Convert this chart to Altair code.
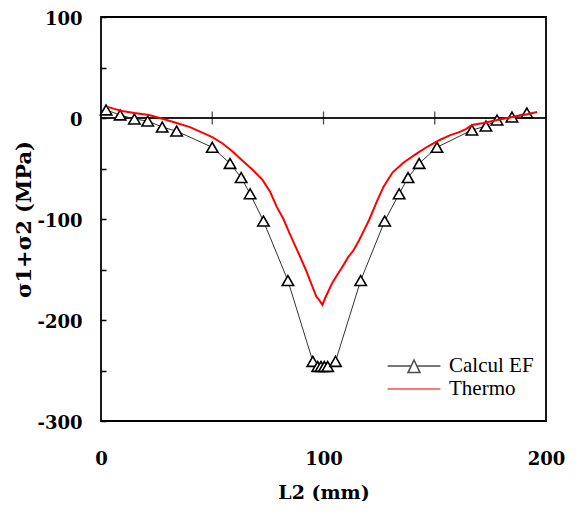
import altair as alt
import pandas as pd

# Calcul EF (finite element) points
ef_x = [2.3, 8.6, 15, 21, 27.5, 34, 50, 58, 63, 67, 73, 84, 95.2, 97.4, 98.9, 100.4, 101.9, 105.4,
        116.7, 127.5, 134, 138, 143, 151, 166.7, 173, 178, 184.7, 191.4]
ef_y = [8, 3, -1, -3, -9, -13, -29, -45, -59, -75, -102, -161, -241, -246, -246, -246, -246, -241,
        -161, -102, -75, -59, -45, -29, -12, -8, -2, 1, 5]

# Thermo measurement curve
th_x = [3, 6, 9.5, 15, 21.6, 28, 34, 40, 45, 50, 54.5, 59, 63.5, 68, 72.5, 76, 79, 82, 84.7, 88,
        90, 92, 94.5, 96.8, 98, 99.5, 101, 102.5, 104, 106, 108.6, 111, 113.5, 116, 118.5, 120.7,
        123.7, 127, 131, 136, 142, 147, 152, 157, 161, 164, 166.7, 172, 178, 185, 190, 196]
th_y = [11, 9, 7, 5, 3, -1, -5, -9, -14, -19, -25, -33, -42, -51, -61, -73, -88, -100, -114, -130,
        -140, -150, -164, -177, -180, -185, -177, -170, -163, -156, -147, -138, -131, -121, -110, -100,
        -84, -68, -54, -44, -35, -28, -22, -17, -14, -11, -7, -5, -2, 1, 3, 6]

zero_ticks = [50, 100, 150]
x_labels = [0, 100, 200]
y_ticks = [-300, -250, -200, -150, -100, -50, 0, 50, 100]
series_names = ["Calcul EF", "Thermo"]

ef = pd.DataFrame({"L2": ef_x, "s": ef_y, "series": "Calcul EF"})
th = pd.DataFrame({"L2": th_x, "s": th_y, "series": "Thermo"})
tk = pd.DataFrame({"L2": zero_ticks})

FONT = "Liberation Serif"
BFONT = "DejaVu Serif"

xs = alt.Scale(domain=[0, 200], nice=False, zero=False)
ys = alt.Scale(domain=[-300, 100], nice=False, zero=False)

x_enc = alt.X("L2:Q", scale=xs, axis=alt.Axis(
    values=x_labels, ticks=False, domain=False, grid=False, labelFlush=False,
    labelPadding=29, labelFontSize=18, labelFontWeight="bold", labelFont=BFONT, labelColor="black",
    title="L2 (mm)", titleFontSize=19, titleFontWeight="bold", titleFont=BFONT, titleColor="black",
    titlePadding=15))
y_enc = alt.Y("s:Q", scale=ys, axis=alt.Axis(
    values=y_ticks, labelExpr="datum.value % 100 === 0 ? toString(datum.value) : ''",
    tickSize={"expr": "-5"}, tickColor="black", tickWidth=1.5, domain=False, grid=False,
    labelPadding=24, labelOffset=2, labelFontSize=18, labelFontWeight="bold", labelFont=BFONT,
    labelColor="black",
    title="σ1+σ2 (MPa)", titleFontSize=21, titleFontWeight="bold", titleFont=BFONT, titleColor="black",
    titlePadding=2))

zero_line = alt.Chart(tk).mark_rule(color="black", strokeWidth=1.2).encode(y=alt.datum(0))
zero_tk = alt.Chart(tk).mark_tick(orient="vertical", size=13, thickness=1.3, color="black").encode(
    x=alt.X("L2:Q", scale=xs), y=alt.datum(0))

ef_line = alt.Chart(ef).mark_line(color="#333333", strokeWidth=1).encode(x=x_enc, y=y_enc)
ef_pts = alt.Chart(ef).mark_point(shape="triangle-up", filled=True, fill="white", stroke="black",
                                  strokeWidth=1.6, size=130, opacity=1).encode(x=x_enc, y=y_enc)
th_line = alt.Chart(th).mark_line(color="red", strokeWidth=2).encode(x=x_enc, y=y_enc)

path_ef = "M-2.2,0H-0.24M0.24,0H2.2M0,-0.5L0.5,0.55L-0.5,0.55Z"
path_th = "M-2.2,0H2.2"
leg = alt.Legend(orient="none", legendX=300, legendY=336, padding=0, title=None,
                 labelFont=FONT, labelFontSize=21, labelFontWeight="normal", labelColor="black",
                 labelOffset=22, symbolSize=576, symbolStrokeWidth=1.5, rowPadding=0)
legend_layer = alt.Chart(ef).transform_filter("false").mark_point(filled=False, size=576).encode(
    x=x_enc, y=y_enc,
    color=alt.Color("series:N", scale=alt.Scale(domain=series_names, range=["black", "red"]), legend=leg),
    shape=alt.Shape("series:N", scale=alt.Scale(domain=series_names, range=[path_ef, path_th]), legend=leg),
)

chart = alt.layer(zero_line, zero_tk, ef_line, ef_pts, th_line, legend_layer).properties(
    width=445, height=404,
    autosize=alt.AutoSizeParams(type="none"),
    padding={"left": 93, "top": 9, "right": 30, "bottom": 80},
    background="white",
).configure(font=FONT).configure_view(stroke="black", strokeWidth=1.8)

chart.save("out.html", embed_options={"renderer": "svg", "actions": False})
